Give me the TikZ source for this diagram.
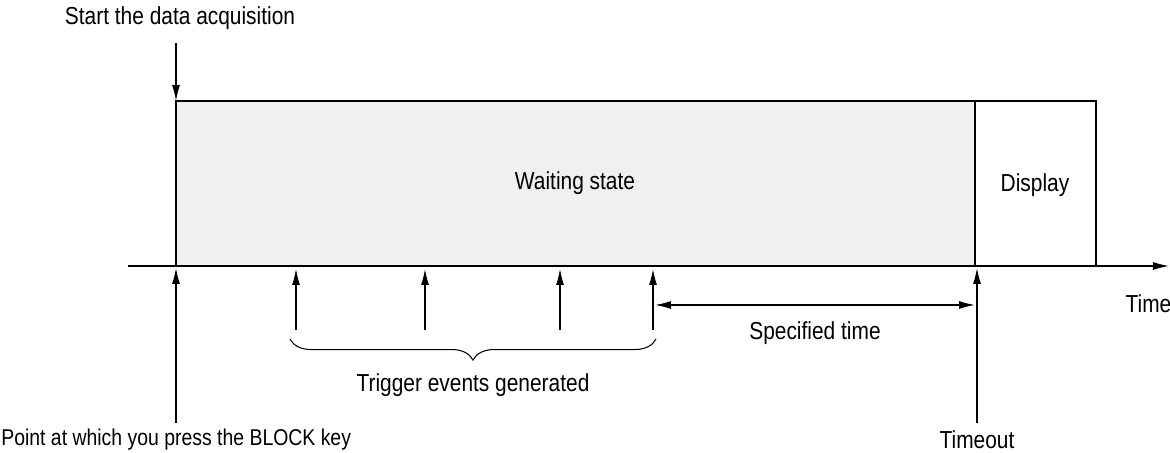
\documentclass[tikz,border=0pt]{standalone}
\usepackage{tikz}
\usepackage{xcolor}
\usepackage{fontspec}
\setmainfont{Liberation Sans}[FakeStretch=0.85]
\usetikzlibrary{arrows.meta,decorations.pathreplacing}
\definecolor{waitgray}{RGB}{239,240,242}
\tikzset{
  sig/.style={line width=0.7pt, -{Latex[length=9pt,width=4.5pt]}},
  lbl/.style={font=\fontsize{14}{16}\selectfont, inner sep=1pt}
}
\begin{document}
\begin{tikzpicture}
            \useasboundingbox (0,0) rectangle (23.4,9.06);
            % State boxes
            \draw[line width=0.6pt, fill=waitgray] (3.52,3.74) rectangle (19.5,7.04);
            \draw[line width=0.6pt] (19.5,3.74) rectangle (21.92,7.04);
            \node[lbl] (wait) at (11.5,5.4) {Waiting state};
            \node[lbl] (disp) at (20.7,5.36) {Display};
            
            % Time axis
            \coordinate (ax0) at (2.56,3.74);
            \coordinate (ax1) at (23.38,3.74);
            \draw[sig] (ax0) -- (ax1);
            \node[lbl] (time) at (22.97,2.98) {Time};
            
            % Start / BLOCK key
            \node[lbl] (start) at (3.6,8.7) {Start the data acquisition};
            \coordinate (s0) at (3.52,8.2);
            \coordinate (s1) at (3.52,7.04);
            \draw[sig] (s0) -- (s1);
            \node[lbl, font=\fontsize{13}{15}\selectfont, anchor=west, inner sep=0pt] (block) at (0.02,0.26) {Point at which you press the BLOCK key};
            \coordinate (b0) at (3.52,0.6);
            \coordinate (b1) at (3.52,3.7);
            \draw[sig] (b0) -- (b1);
            
            % Trigger events
            \foreach \n/\x in {1/5.92, 2/8.5, 3/11.2, 4/13.06} {
              \coordinate (tb\n) at (\x,2.46);
              \coordinate (tt\n) at (\x,3.68);
              \draw[sig] (tb\n) -- (tt\n);
            }
            \draw[line width=0.6pt, decorate, decoration={brace, mirror, amplitude=12pt}]
              (5.8,2.28) -- (13.12,2.28);
            \node[lbl] (trig) at (9.46,1.36) {Trigger events generated};
            
            % Specified time and timeout
            \coordinate (o0) at (19.54,0.6);
            \coordinate (o1) at (19.54,3.7);
            \draw[sig] (o0) -- (o1);
            \node[lbl] (tout) at (19.54,0.26) {Timeout};
            \coordinate (p0) at (13.1,2.96);
            \coordinate (p1) at (19.5,2.96);
            \draw[sig, {Latex[length=9pt,width=4.5pt]}-{Latex[length=9pt,width=4.5pt]}] (p0) -- (p1);
            \node[lbl] (spec) at (16.3,2.4) {Specified time};
\end{tikzpicture}
\end{document}
